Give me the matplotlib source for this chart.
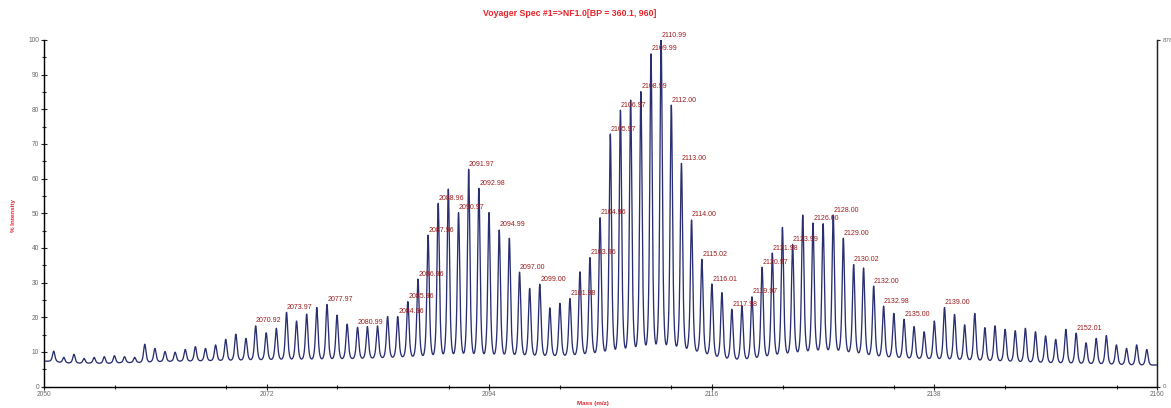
import numpy as np
import matplotlib
matplotlib.use("Agg")
import matplotlib.pyplot as plt
from matplotlib.ticker import MultipleLocator

plt.rcParams['font.family'] = ['Liberation Sans', 'DejaVu Sans']

# ---- data ----
peak_mz = [2050.96, 2051.96, 2052.96, 2053.96, 2054.96, 2055.96, 2056.96, 2057.96, 2058.96, 2059.96,
           2060.96, 2061.96, 2062.96, 2063.96, 2064.96, 2065.96, 2066.96, 2067.96, 2068.96, 2069.96,
           2070.92, 2071.96, 2072.96, 2073.97, 2074.96, 2075.96, 2076.96, 2077.97, 2078.96, 2079.96,
           2080.99, 2081.96, 2082.96, 2083.96, 2084.96, 2085.96, 2086.96, 2087.96, 2088.96, 2089.96,
           2090.97, 2091.97, 2092.98, 2093.98, 2094.99, 2095.99, 2097.00, 2098.00, 2099.00, 2099.99,
           2100.99, 2101.98, 2102.97, 2103.96, 2104.96, 2105.97, 2106.97, 2107.98, 2108.99, 2109.99,
           2110.99, 2112.00, 2113.00, 2114.00, 2115.02, 2116.01, 2117.00, 2117.98, 2118.98, 2119.97,
           2120.97, 2121.98, 2122.98, 2123.99, 2124.99, 2126.00, 2127.00, 2128.00, 2129.00, 2130.02,
           2131.00, 2132.00, 2132.98, 2133.99, 2135.00, 2135.99, 2136.99, 2137.99, 2139.00, 2139.99,
           2140.99, 2141.99, 2142.99, 2143.99, 2144.99, 2145.99, 2146.99, 2147.99, 2148.99, 2149.99,
           2150.99, 2152.01, 2152.99, 2153.99, 2154.99, 2155.99, 2156.99, 2157.99, 2158.99]

peak_int = [10.2, 8.4, 9.3, 8.1, 8.4, 8.6, 8.9, 8.6, 8.4, 12.2,
            11.0, 10.1, 9.9, 10.7, 11.5, 11.0, 12.0, 13.6, 15.1, 13.9,
            17.5, 15.5, 16.8, 21.4, 18.9, 20.9, 22.8, 23.7, 20.6, 18.0,
            17.1, 17.3, 17.5, 20.2, 20.2, 24.5, 31.0, 43.7, 52.9, 57.0,
            50.2, 62.7, 57.2, 50.2, 45.2, 42.8, 33.0, 28.3, 29.5, 22.7,
            24.0, 25.4, 33.1, 37.2, 48.7, 72.9, 79.8, 82.7, 85.1, 96.0,
            100.0, 81.2, 64.4, 48.1, 36.7, 29.6, 27.1, 22.3, 23.2, 25.9,
            34.4, 38.5, 45.9, 41.0, 49.5, 47.2, 47.0, 49.5, 42.8, 35.2,
            34.2, 29.0, 23.2, 21.1, 19.4, 17.3, 15.8, 18.9, 22.8, 20.8,
            17.8, 21.1, 17.0, 17.5, 16.5, 16.1, 16.8, 15.8, 14.6, 13.6,
            16.5, 15.4, 12.6, 13.9, 14.7, 12.0, 11.0, 12.0, 10.7]

base_int = [7.3, 6.8, 6.8, 6.7, 6.8, 6.6, 6.8, 6.9, 6.9, 7.0,
            7.2, 7.2, 7.3, 7.3, 7.4, 7.4, 7.5, 7.5, 7.6, 7.6,
            7.7, 7.7, 7.8, 7.8, 7.8, 7.8, 7.8, 7.9, 7.9, 8.0,
            8.0, 8.1, 8.2, 8.3, 8.4, 8.5, 8.6, 8.7, 8.9, 9.0,
            9.1, 9.1, 9.0, 9.0, 9.0, 9.0, 9.0, 8.9, 8.8, 8.8,
            8.8, 8.9, 9.1, 9.3, 9.6, 9.9, 10.2, 10.6, 11.0, 11.3,
            11.4, 11.2, 10.8, 10.3, 9.6, 8.8, 8.2, 7.8, 7.7, 8.0,
            8.4, 8.8, 9.2, 9.5, 9.8, 10.1, 10.2, 10.2, 10.0, 9.6,
            9.2, 8.8, 8.5, 8.4, 8.2, 8.1, 8.0, 8.0, 7.9, 7.8,
            7.7, 7.6, 7.5, 7.4, 7.3, 7.2, 7.1, 7.0, 6.9, 6.8,
            6.8, 6.7, 6.6, 6.6, 6.5, 6.4, 6.3, 6.2, 6.2]

label_mz = [2070.92, 2073.97, 2077.97, 2080.99, 2084.96, 2085.96, 2086.96, 2087.96, 2088.96,
            2090.97, 2091.97, 2092.98, 2094.99, 2097.00, 2099.00, 2101.98, 2103.96, 2104.96,
            2105.97, 2106.97, 2108.99, 2109.99, 2110.99, 2112.00, 2113.00, 2114.00, 2115.02,
            2116.01, 2117.98, 2119.97, 2120.97, 2121.98, 2123.99, 2126.00, 2128.00, 2129.00,
            2130.02, 2132.00, 2132.98, 2135.00, 2139.00, 2152.01]

x_ticks = [2050, 2072, 2094, 2116, 2138, 2160]
y_ticks = [0, 10, 20, 30, 40, 50, 60, 70, 80, 90, 100]
right_ticks = [0, 876]

title_text = "Voyager Spec #1=>NF1.0[BP = 360.1, 960]"
x_label = "Mass (m/z)"
y_label = "% Intensity"

# ---- figure ----
W, H = 1171, 408
fig = plt.figure(figsize=(W / 100, H / 100), dpi=100)
ax = fig.add_axes([44 / W, 21.5 / H, 1113 / W, 346.5 / H])

# peak profile: narrow core plus a wider skirt
mz = np.linspace(x_ticks[0], x_ticks[-1], 10000)
curve = np.interp(mz, peak_mz, base_int)
for c, h, b in zip(peak_mz, peak_int, base_int):
    d = mz - c
    shape = 0.6 * np.exp(-0.5 * (d / 0.095) ** 2) + 0.4 * np.exp(-0.5 * (d / 0.17) ** 2)
    curve = curve + (h - b) * shape

ax.plot(mz, curve, color='#2a2f72', lw=0.95, solid_joinstyle='round')

for m in label_mz:
    i = peak_mz.index(m)
    ax.annotate(f"{m:.2f}", xy=(m, peak_int[i]), xytext=(0.3, 1.0),
                textcoords='offset points', ha='left', va='bottom',
                fontsize=5, color='#9b1c1c', clip_on=False)

ax.set_xlim(x_ticks[0], x_ticks[-1])
ax.set_ylim(0, 100)
ax.set_xticks(x_ticks)
ax.set_yticks(y_ticks)
ax.xaxis.set_minor_locator(MultipleLocator(11))
ax.yaxis.set_minor_locator(MultipleLocator(5))
ax.tick_params(which='major', direction='inout', length=4, width=0.8,
               labelsize=4.8, labelcolor='#6a6a6a', color='#222222', pad=1.5)
ax.tick_params(which='minor', direction='inout', length=3, width=0.8, color='#222222')

ax.spines['top'].set_visible(False)
for s in ['left', 'bottom', 'right']:
    ax.spines[s].set_color('#222222')
    ax.spines[s].set_linewidth(1.0)

ax2 = ax.twinx()
ax2.set_ylim(right_ticks[0], right_ticks[-1])
ax2.set_yticks(right_ticks)
ax2.tick_params(direction='out', length=2.5, width=0.8, labelsize=4.5,
                labelcolor='#6a6a6a', color='#222222', pad=1.5)
ax2.spines['top'].set_visible(False)
ax2.spines['right'].set_color('#222222')

fig.text(570 / W, 1 - 14 / H, title_text, ha='center', va='center',
         fontsize=6.3, fontweight='bold', color='#e8242b')
fig.text(593 / W, 1 - 404 / H, x_label, ha='center', va='center',
         fontsize=4.5, fontweight='bold', color='#e8242b')
fig.text(14 / W, 1 - 215 / H, y_label, ha='center', va='center', rotation=90,
         fontsize=4.5, fontweight='bold', color='#e8242b')

fig.savefig('out.png', dpi=100)
